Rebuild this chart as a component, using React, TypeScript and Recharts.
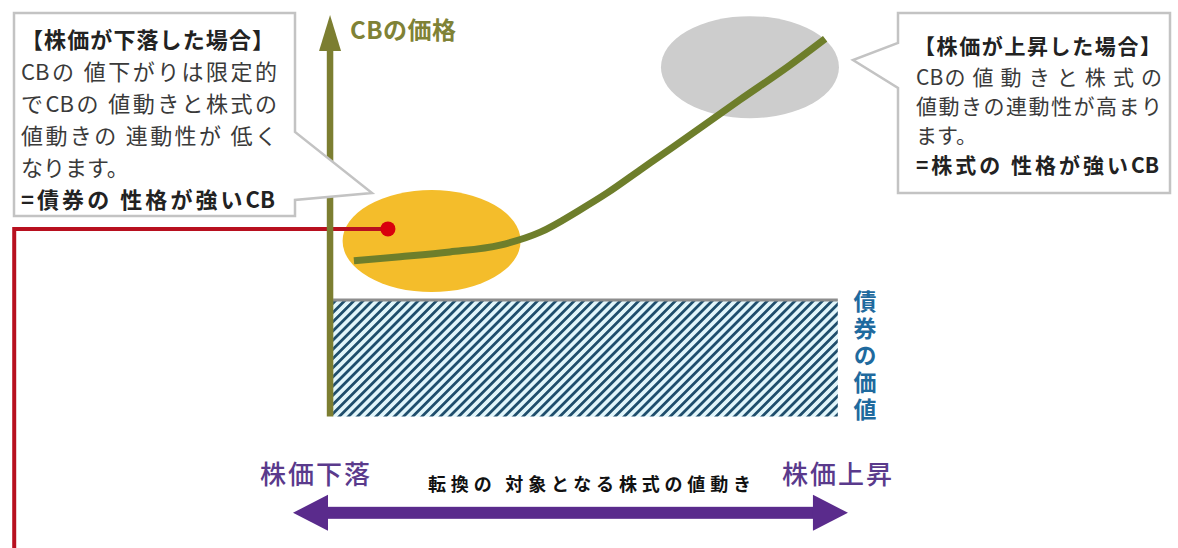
import {
  Area,
  ComposedChart,
  Line,
  ReferenceLine,
  Scatter,
  XAxis,
  YAxis,
} from "recharts";

// conceptual units: x = move of the underlying stock (0 at the axis), y = CB price
const curveX = [4.7, 13.8, 23.6, 33.5, 41.4, 49.2, 54.6, 61.1, 67.6, 80.7, 90.6, 97.5];
const curveY = [38.5, 39.5, 40.7, 42.4, 45.6, 51.1, 55.3, 61.0, 66.7, 78.3, 86.9, 93.4];

const bondX = [0.6, 100];
const bondValue = 28.8;

const zoneX = [20.0, 82.7];
const zoneY = [43.4, 86.4];
const zoneColors = ["#f4bd2b", "#cdcdcd"];

const markerX = [11.4, -62.2, -62.2];
const markerY = [46.4, 46.4, -32.5];

const priceAxisTop = 99.3;
const stockArrowX = [-7.3, 102];
const stockArrowY = -23.8;

const X_DOMAIN = [-65, 167];
const Y_DOMAIN = [-32.5, 103];

const leftTitle = "【株価が下落した場合】";
const leftLines = [
  "CBの 値下がりは限定的",
  "でCBの 値動きと株式の",
  "値動きの 連動性が 低く",
  "なります。",
];
const leftConclusion = "=債券の 性格が強いCB";

const rightTitle = "【株価が上昇した場合】";
const rightLines = ["CBの 値 動 き と 株 式 の", "値動きの連動性が高まり", "ます。"];
const rightConclusion = "=株式の 性格が強いCB";

const yAxisLabel = "CBの価格";
const bondLabel = "債券の価値";
const xAxisLabel = "転換の 対象となる株式の値動き";
const downLabel = "株価下落";
const upLabel = "株価上昇";

const curveData = curveX.map((x, i) => ({ x, y: curveY[i] }));
const bondData = bondX.map((x) => ({ x, y: bondValue }));
const zoneData = zoneX.map((x, i) => ({ x, y: zoneY[i], fill: zoneColors[i] }));
const markerData = markerX.map((x, i) => ({ x, y: markerY[i] }));

const FONT = '"Noto Sans CJK JP", "Noto Sans", sans-serif';

const ZoneShape = (props: any) => (
  <ellipse cx={props.cx} cy={props.cy} rx={89} ry={51} fill={props.payload.fill} />
);

const DotShape = (props: any) => (
  <circle cx={props.cx} cy={props.cy} r={7.5} fill="#d9000d" />
);

const PriceAxisShape = (props: any) => {
  const { x1, y1, y2 } = props;
  const top = Math.min(y1, y2);
  const bottom = Math.max(y1, y2);
  return (
    <g>
      <line x1={x1} y1={bottom} x2={x1} y2={top + 30} stroke="#7c7e31" strokeWidth={6.5} />
      <polygon
        points={`${x1},${top} ${x1 - 11},${top + 36} ${x1 + 11},${top + 36}`}
        fill="#7c7e31"
      />
    </g>
  );
};

const StockArrowShape = (props: any) => {
  const { x1, y1, x2 } = props;
  const left = Math.min(x1, x2);
  const right = Math.max(x1, x2);
  const y = y1;
  return (
    <g fill="#5a2b8c">
      <rect x={left + 30} y={y - 6} width={right - left - 60} height={12} />
      <polygon points={`${left},${y} ${left + 35},${y - 18} ${left + 35},${y + 18}`} />
      <polygon points={`${right},${y} ${right - 35},${y - 18} ${right - 35},${y + 18}`} />
    </g>
  );
};

const lineStyle = (top: number, left: number, width: number, justify: boolean) => ({
  position: "absolute" as const,
  top,
  left,
  width,
  height: 32,
  lineHeight: "32px",
  whiteSpace: "nowrap" as const,
  textAlign: "left" as const,
  textAlignLast: justify ? ("justify" as const) : ("left" as const),
});

export default function App() {
  return (
    <div
      style={{
        position: "absolute",
        left: 0,
        top: 0,
        width: 1178,
        height: 548,
        background: "#fff",
        fontFamily: FONT,
        overflow: "hidden",
      }}
    >
      <ComposedChart
        width={1178}
        height={548}
        margin={{ top: 0, right: 0, bottom: 0, left: 0 }}
      >
        <defs>
          <pattern
            id="hatch"
            width={6.5}
            height={6.5}
            patternUnits="userSpaceOnUse"
            patternTransform="rotate(45)"
          >
            <rect width={6.5} height={6.5} fill="#e2f6fb" />
            <rect width={2.8} height={6.5} fill="#1f4e6c" />
          </pattern>
        </defs>
        <XAxis type="number" dataKey="x" domain={X_DOMAIN} allowDataOverflow hide />
        <YAxis type="number" dataKey="y" domain={Y_DOMAIN} allowDataOverflow hide />
        <Area
          data={bondData}
          dataKey="y"
          type="linear"
          fill="url(#hatch)"
          fillOpacity={1}
          stroke="#8d8d8d"
          strokeWidth={3}
          isAnimationActive={false}
          zIndex={100}
        />
        <Scatter
          data={zoneData}
          dataKey="y"
          shape={ZoneShape}
          isAnimationActive={false}
          zIndex={200}
        />
        <Line
          data={curveData}
          dataKey="y"
          type="monotone"
          stroke="#6e7e2b"
          strokeWidth={7}
          dot={false}
          activeDot={false}
          isAnimationActive={false}
          zIndex={300}
        />
        <Line
          data={markerData}
          dataKey="y"
          type="linear"
          stroke="#b8101f"
          strokeWidth={4}
          dot={false}
          activeDot={false}
          isAnimationActive={false}
          zIndex={400}
        />
        <Scatter
          data={[markerData[0]]}
          dataKey="y"
          shape={DotShape}
          isAnimationActive={false}
          zIndex={500}
        />
        <ReferenceLine
          segment={[
            { x: 0, y: 0 },
            { x: 0, y: priceAxisTop },
          ]}
          shape={PriceAxisShape}
          zIndex={600}
        />
        <ReferenceLine
          segment={[
            { x: stockArrowX[0], y: stockArrowY },
            { x: stockArrowX[1], y: stockArrowY },
          ]}
          shape={StockArrowShape}
          zIndex={600}
        />
      </ComposedChart>

      <svg
        width={1178}
        height={548}
        style={{ position: "absolute", left: 0, top: 0, pointerEvents: "none" }}
      >
        <path
          d="M14,13 H295 V132 L372,193 L295,200 V216 H14 Z"
          fill="#fff"
          stroke="#c3c3c3"
          strokeWidth={2.5}
        />
        <path
          d="M898,13 H1170 V193 H898 V88 L853,60 L898,43 Z"
          fill="#fff"
          stroke="#c3c3c3"
          strokeWidth={2.5}
        />
      </svg>

      <div style={{ fontSize: 22, color: "#3a3a3a" }}>
        <div style={{ ...lineStyle(22, 21, 253, true), fontWeight: 700, color: "#222" }}>
          {leftTitle}
        </div>
        {leftLines.map((t, i) => (
          <div key={t} style={lineStyle(54 + i * 32, 21, 256, i < 3)}>
            {t}
          </div>
        ))}
        <div style={{ ...lineStyle(182, 21, 254, true), fontWeight: 700, color: "#222" }}>
          {leftConclusion}
        </div>
      </div>

      <div style={{ fontSize: 21, color: "#3a3a3a" }}>
        <div style={{ ...lineStyle(29, 914, 247, true), fontWeight: 700, color: "#222" }}>
          {rightTitle}
        </div>
        {rightLines.map((t, i) => (
          <div key={t} style={lineStyle(60 + i * 29, 916, 246, i < 2)}>
            {t}
          </div>
        ))}
        <div style={{ ...lineStyle(148, 916, 243, true), fontWeight: 700, color: "#222" }}>
          {rightConclusion}
        </div>
      </div>

      <div
        style={{
          position: "absolute",
          left: 350,
          top: 13,
          fontSize: 24,
          fontWeight: 700,
          color: "#7f8236",
          lineHeight: "32px",
          letterSpacing: 0.5,
          whiteSpace: "nowrap",
        }}
      >
        {yAxisLabel}
      </div>

      <div
        style={{
          position: "absolute",
          left: 852,
          top: 290,
          fontSize: 23,
          fontWeight: 700,
          color: "#1f6a9e",
          writingMode: "vertical-rl",
          letterSpacing: 4,
          lineHeight: "26px",
        }}
      >
        {bondLabel}
      </div>

      <div
        style={{
          position: "absolute",
          left: 260,
          top: 455,
          fontSize: 26,
          color: "#5a3a8c",
          fontWeight: 500,
          letterSpacing: 2,
          whiteSpace: "nowrap",
          lineHeight: "36px",
        }}
      >
        {downLabel}
      </div>
      <div
        style={{
          position: "absolute",
          left: 782,
          top: 455,
          fontSize: 26,
          color: "#5a3a8c",
          fontWeight: 500,
          letterSpacing: 2,
          whiteSpace: "nowrap",
          lineHeight: "36px",
        }}
      >
        {upLabel}
      </div>
      <div
        style={{
          position: "absolute",
          left: 428,
          top: 469,
          width: 323,
          fontSize: 18,
          fontWeight: 700,
          color: "#111",
          whiteSpace: "nowrap",
          lineHeight: "28px",
          textAlignLast: "justify",
        }}
      >
        {xAxisLabel}
      </div>
    </div>
  );
}
